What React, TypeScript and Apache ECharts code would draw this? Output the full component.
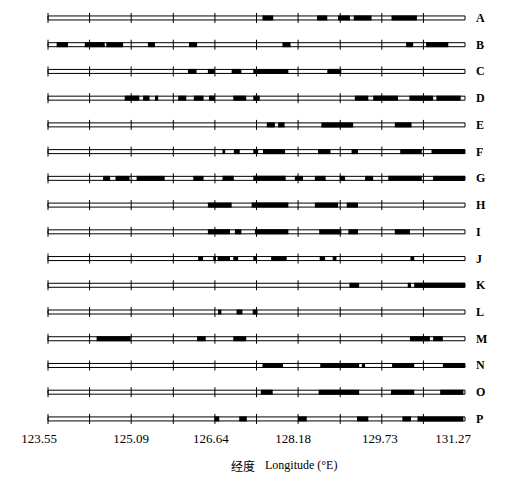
import React, { useEffect, useRef } from "react";
import * as echarts from "echarts";

const rows = ["A", "B", "C", "D", "E", "F", "G", "H", "I", "J", "K", "L", "M", "N", "O", "P"];
const lonMin = 123.55;
const lonMax = 131.27;
const tickValues = [123.55, 124.32, 125.09, 125.87, 126.64, 127.41, 128.18, 128.96, 129.73, 130.5];
const labelValues = [123.55, 125.09, 126.64, 128.18, 129.73, 131.27];

const segA = [[127.52, 127.72], [128.53, 128.72], [128.92, 129.14], [129.21, 129.54], [129.91, 130.38]];
const segB = [[123.71, 123.92], [124.23, 124.6], [124.63, 124.94], [125.4, 125.53], [126.16, 126.31], [127.89, 128.04], [130.18, 130.31], [130.55, 130.96]];
const segC = [[126.14, 126.3], [126.51, 126.64], [126.95, 127.13], [127.35, 128.0], [128.72, 128.98]];
const segD = [[124.97, 125.24], [125.31, 125.43], [125.53, 125.59], [125.96, 126.11], [126.25, 126.43], [126.53, 126.64], [126.98, 127.22], [127.35, 127.47], [129.23, 129.48], [129.57, 130.03], [130.24, 130.68], [130.74, 131.19]];
const segE = [[127.6, 127.75], [127.81, 127.93], [128.61, 129.2], [129.97, 130.28]];
const segF = [[126.78, 126.83], [126.99, 127.1], [127.35, 127.44], [127.53, 127.94], [128.55, 128.78], [129.17, 129.29], [130.07, 130.47], [130.65, 131.27]];
const segG = [[124.57, 124.7], [124.8, 125.06], [125.19, 125.71], [126.24, 126.43], [126.78, 126.99], [127.35, 127.95], [128.12, 128.27], [128.49, 128.69], [128.95, 129.05], [129.42, 129.57], [129.85, 130.47], [130.68, 131.27]];
const segH = [[126.51, 126.95], [127.32, 128.0], [128.49, 128.92], [129.08, 129.29]];
const segI = [[126.51, 126.92], [127.01, 127.13], [127.38, 128.0], [128.57, 128.98], [129.11, 129.29], [129.97, 130.25]];
const segJ = [[126.33, 126.42], [126.61, 126.66], [126.69, 126.92], [126.98, 127.07], [127.35, 127.4], [127.68, 127.97], [128.58, 128.68], [128.82, 128.89], [130.26, 130.33]];
const segK = [[129.13, 129.31], [130.21, 130.27], [130.33, 131.27]];
const segL = [[126.7, 126.76], [127.04, 127.15], [127.34, 127.43]];
const segM = [[124.45, 125.08], [126.31, 126.47], [126.98, 127.22], [130.25, 130.62], [130.68, 130.86]];
const segN = [[127.52, 127.9], [128.59, 129.31], [129.36, 129.42], [129.92, 130.33], [130.86, 131.27]];
const segO = [[127.49, 127.71], [128.56, 129.31], [129.9, 130.33], [130.81, 131.24]];
const segP = [[126.63, 126.72], [127.09, 127.23], [128.18, 128.34], [129.27, 129.48], [130.11, 130.27], [130.39, 131.24]];

const segments = [segA, segB, segC, segD, segE, segF, segG, segH, segI, segJ, segK, segL, segM, segN, segO, segP];

const SERIF = '"Liberation Serif", "Times New Roman", serif';

export default function App() {
  const ref = useRef<HTMLDivElement>(null);
  useEffect(() => {
    if (!ref.current) return;
    const chart = echarts.init(ref.current, null, { renderer: "svg" });

    const stripData = rows.map((_, i) => [lonMin, lonMax, i]);
    const segData: number[][] = [];
    segments.forEach((list, i) => list.forEach((s) => segData.push([s[0], s[1], i])));

    // small horizontal nudges of tick labels, as printed in the original figure
    const labelNudge = [9, 0, 4, 5, 2, 12];
    const rich: any = {};
    labelNudge.forEach((n, i) => {
      rich["l" + i] = {
        color: "#000",
        fontFamily: SERIF,
        fontSize: 13,
        padding: [0, n * 2, 0, 0],
      };
    });

    const option: any = {
      animation: false,
      backgroundColor: "#ffffff",
      grid: { left: 48, right: 67, top: 4.6, bottom: 50.7 },
      xAxis: {
        type: "value",
        min: lonMin,
        max: lonMax,
        axisLine: { show: false },
        axisTick: { show: false },
        splitLine: { show: false },
        axisLabel: {
          customValues: labelValues,
          formatter: (v: number) => {
            let idx = 0;
            let best = Infinity;
            labelValues.forEach((lv, i) => {
              const d = Math.abs(lv - v);
              if (d < best) { best = d; idx = i; }
            });
            return "{l" + idx + "|" + v.toFixed(2) + "}";
          },
          rich,
          color: "#000",
          fontFamily: SERIF,
          fontSize: 13,
          margin: 0,
        },
      },
      yAxis: {
        type: "category",
        data: rows,
        inverse: true,
        position: "right",
        axisLine: { show: false },
        axisTick: { show: false },
        splitLine: { show: false },
        axisLabel: {
          color: "#000",
          fontFamily: SERIF,
          fontWeight: "bold",
          fontSize: 12,
          margin: 11,
        },
      },
      series: [
        {
          type: "custom",
          data: stripData,
          encode: { x: [0, 1], y: 2 },
          renderItem: (params: any, api: any) => {
            const row = api.value(2);
            const p0 = api.coord([api.value(0), row]);
            const p1 = api.coord([api.value(1), row]);
            const h = 4;
            const children: any[] = [
              {
                type: "rect",
                shape: { x: p0[0], y: p0[1] - h / 2, width: p1[0] - p0[0], height: h },
                style: { fill: "#fff", stroke: "#000", lineWidth: 1 },
              },
            ];
            tickValues.forEach((t) => {
              const p = api.coord([t, row]);
              children.push({
                type: "line",
                shape: { x1: p[0], y1: p[1] - 5, x2: p[0], y2: p[1] + 5 },
                style: { stroke: "#000", lineWidth: 1 },
              });
            });
            return { type: "group", children };
          },
          z: 1,
        },
        {
          type: "custom",
          data: segData,
          encode: { x: [0, 1], y: 2 },
          renderItem: (params: any, api: any) => {
            const row = api.value(2);
            const p0 = api.coord([api.value(0), row]);
            const p1 = api.coord([api.value(1), row]);
            const h = 5;
            return {
              type: "rect",
              shape: { x: p0[0], y: p0[1] - h / 2, width: Math.max(1.5, p1[0] - p0[0]), height: h },
              style: { fill: "#000" },
            };
          },
          z: 2,
        },
      ],
      graphic: [
        {
          type: "text",
          left: 231,
          top: 459,
          style: { text: "经度", fill: "#000", font: '12px "Noto Sans CJK SC"' },
        },
        {
          type: "text",
          left: 265,
          top: 459,
          style: { text: "Longitude (°E)", fill: "#000", font: '12px ' + SERIF },
        },
      ],
    };
    chart.setOption(option);
    return () => chart.dispose();
  }, []);
  return (
    <div
      ref={ref}
      style={{ position: "fixed", left: 0, top: 0, width: 532, height: 483, background: "#fff" }}
    />
  );
}
